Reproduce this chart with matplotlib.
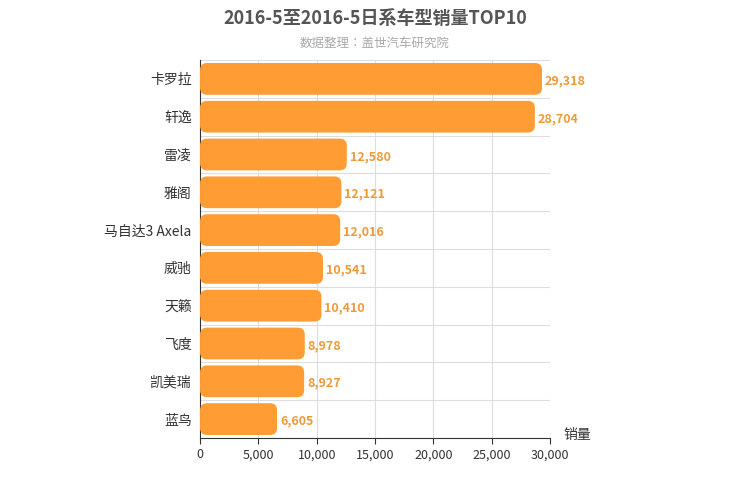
import matplotlib
matplotlib.use("Agg")
import matplotlib.pyplot as plt
from matplotlib import font_manager
from matplotlib.patches import FancyBboxPatch

# pick whichever CJK family the font manager actually knows about
cjk = [f.name for f in font_manager.fontManager.ttflist if "CJK" in f.name]
pref = [c for c in cjk if c.endswith("SC")] or cjk
plt.rcParams["font.family"] = (pref[:1] if pref else []) + ["DejaVu Sans"]

# top 10 models, top to bottom
models = ["卡罗拉", "轩逸", "雷凌", "雅阁", "马自达3 Axela", "威驰", "天籁", "飞度", "凯美瑞", "蓝鸟"]
sales = [29318, 28704, 12580, 12121, 12016, 10541, 10410, 8978, 8927, 6605]
xticks = [0, 5000, 10000, 15000, 20000, 25000, 30000]

fig = plt.figure(figsize=(7.5, 5), dpi=100)
ax = fig.add_axes([0.2667, 0.124, 0.4666, 0.756])

n = len(models)
ypos = list(range(n))[::-1]
bars = ax.barh(ypos, sales, height=0.84, color="none")
ax.set_xlim(0, 30000)
ax.set_ylim(-0.5, n - 0.5)

# swap plain bars for rounded ones
aspect = (n / 378) / (30000 / 350)
for b in bars:
    x, y = b.get_xy()
    p = FancyBboxPatch((x, y), b.get_width(), b.get_height(),
                       boxstyle="round,pad=0,rounding_size=600",
                       mutation_aspect=aspect, facecolor="#ff9c33",
                       edgecolor="none", zorder=3)
    ax.add_patch(p)

for y, v in zip(ypos, sales):
    ax.text(v + 250, y - 0.05, f"{v:,}", va="center", ha="left",
            color="#ef9a3a", fontsize=9, fontweight="bold", zorder=4)

ax.set_yticks(ypos)
ax.set_yticklabels(models, fontsize=10, color="#333333")
ax.set_xticks(xticks)
ax.set_xticklabels([f"{t:,}" for t in xticks], fontsize=9, color="#333333")

for t in xticks[1:]:
    ax.axvline(t, color="#dddddd", lw=0.8, zorder=0)
for k in range(n):
    ax.axhline(k + 0.5, color="#dddddd", lw=0.8, zorder=0)

for s in ["top", "right"]:
    ax.spines[s].set_visible(False)
ax.spines["left"].set_color("#333333")
ax.spines["bottom"].set_color("#333333")
ax.tick_params(axis="y", length=0, pad=6)
ax.tick_params(axis="x", length=4, color="#333333")

ax.text(1.04, -0.01, "销量", transform=ax.transAxes, fontsize=10,
        color="#333333", va="bottom", ha="left")

fig.text(0.5, 0.962, "2016-5至2016-5日系车型销量TOP10", ha="center", va="center",
         fontsize=13, fontweight="bold", color="#555555")
fig.text(0.5, 0.914, "数据整理：盖世汽车研究院", ha="center", va="center",
         fontsize=9, color="#aaaaaa")

fig.savefig("out.png", dpi=100)
